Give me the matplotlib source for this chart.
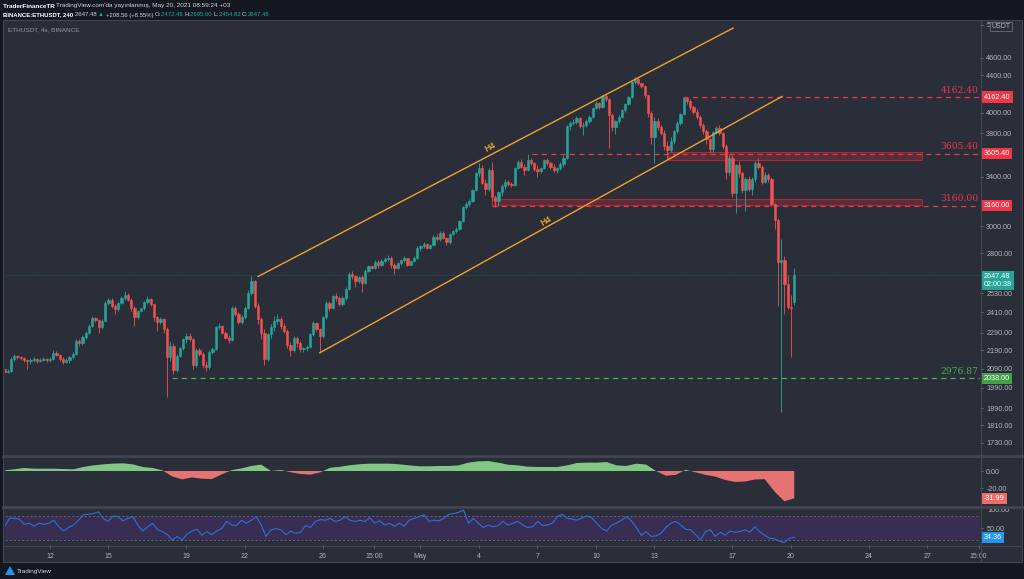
import numpy as np
import pandas as pd
import matplotlib
matplotlib.use('Agg')
import matplotlib.pyplot as plt
import matplotlib.dates as mdates
from matplotlib.transforms import blended_transform_factory as btf
from matplotlib.patches import Rectangle, Polygon
from matplotlib.lines import Line2D
from matplotlib.ticker import NullLocator

# ---------------- DATA ----------------
first_time = '2021-04-09 16:00'     # first 4h candle (local time +03)
first_open = 2085
last_open = 2472.46

closes_d = [
    [2070, 2078],
    [2140, 2158, 2150, 2145, 2135, 2130],
    [2135, 2140, 2132, 2138, 2142, 2136],
    [2140, 2175, 2165, 2140, 2125, 2135],
    [2150, 2170, 2240, 2230, 2265, 2290],
    [2330, 2375, 2365, 2320, 2360, 2470],
    [2490, 2450, 2430, 2470, 2500, 2520],
    [2490, 2440, 2380, 2420, 2435, 2475],
    [2495, 2460, 2380, 2350, 2370, 2310],
    [2150, 2215, 2080, 2160, 2200, 2250],
    [2270, 2250, 2110, 2190, 2170, 2110],
    [2100, 2180, 2195, 2320, 2330, 2290],
    [2260, 2245, 2440, 2400, 2350, 2380],
    [2440, 2530, 2610, 2450, 2370, 2290],
    [2140, 2280, 2320, 2360, 2370, 2330],
    [2300, 2220, 2190, 2260, 2230, 2195],
    [2200, 2210, 2280, 2345, 2310, 2270],
    [2380, 2470, 2440, 2510, 2500, 2460],
    [2500, 2560, 2660, 2640, 2610, 2635],
    [2600, 2680, 2710, 2700, 2740, 2720],
    [2745, 2760, 2770, 2720, 2700, 2730],
    [2750, 2765, 2720, 2745, 2770, 2840],
    [2850, 2870, 2840, 2860, 2920, 2900],
    [2950, 2910, 2880, 2940, 2960, 2980],
    [3040, 3150, 3170, 3200, 3290, 3430],
    [3480, 3350, 3300, 3460, 3230, 3200],
    [3270, 3320, 3360, 3340, 3330, 3480],
    [3530, 3490, 3460, 3550, 3520, 3470],
    [3450, 3480, 3550, 3520, 3490, 3460],
    [3480, 3510, 3570, 3870, 3900, 3910],
    [3950, 3870, 3880, 3920, 3960, 4050],
    [4100, 4060, 4170, 4140, 3980, 3860],
    [3920, 3960, 4030, 4090, 4160, 4330],
    [4360, 4310, 4280, 4180, 4000, 3760],
    [3920, 3860, 3800, 3680, 3640, 3720],
    [3820, 3900, 3990, 4150, 4120, 4060],
    [4010, 3960, 3880, 3820, 3740, 3650],
    [3810, 3850, 3800, 3680, 3440, 3570],
    [3260, 3500, 3430, 3290, 3380, 3300],
    [3380, 3520, 3490, 3360, 3420, 3380],
    [3170, 3050, 2740, 2750, 2590, 2445],
    [2439, 2647.48],
]
highs_d = [
    [2092, 2085],
    [2150, 2170, 2165, 2158, 2150, 2142],
    [2145, 2150, 2145, 2146, 2150, 2148],
    [2150, 2190, 2185, 2170, 2150, 2145],
    [2160, 2180, 2250, 2255, 2275, 2300],
    [2340, 2390, 2385, 2370, 2370, 2480],
    [2500, 2500, 2460, 2475, 2510, 2545],
    [2530, 2500, 2450, 2425, 2440, 2480],
    [2510, 2500, 2465, 2390, 2380, 2375],
    [2320, 2240, 2230, 2170, 2210, 2260],
    [2290, 2285, 2260, 2200, 2200, 2180],
    [2130, 2190, 2210, 2330, 2345, 2335],
    [2300, 2275, 2450, 2450, 2410, 2395],
    [2450, 2550, 2645, 2615, 2470, 2380],
    [2310, 2290, 2340, 2390, 2400, 2380],
    [2345, 2310, 2235, 2270, 2270, 2240],
    [2210, 2220, 2290, 2355, 2350, 2315],
    [2390, 2480, 2480, 2520, 2530, 2510],
    [2510, 2570, 2670, 2680, 2650, 2645],
    [2650, 2690, 2720, 2720, 2750, 2750],
    [2760, 2775, 2785, 2780, 2730, 2740],
    [2760, 2780, 2770, 2755, 2780, 2850],
    [2860, 2880, 2875, 2870, 2930, 2940],
    [2960, 2960, 2915, 2945, 2970, 2990],
    [3050, 3160, 3190, 3215, 3300, 3440],
    [3520, 3500, 3380, 3480, 3530, 3250],
    [3280, 3340, 3380, 3370, 3360, 3490],
    [3545, 3560, 3510, 3600, 3570, 3530],
    [3500, 3490, 3560, 3570, 3540, 3510],
    [3490, 3530, 3590, 3880, 3920, 3940],
    [3970, 3960, 3910, 3935, 3980, 4060],
    [4120, 4110, 4190, 4200, 4150, 4000],
    [3930, 3980, 4040, 4100, 4170, 4340],
    [4380, 4370, 4320, 4290, 4190, 4020],
    [3960, 3950, 3880, 3830, 3720, 3760],
    [3830, 3920, 4000, 4165, 4162, 4140],
    [4080, 4040, 3980, 3900, 3840, 3760],
    [3820, 3870, 3880, 3810, 3700, 3590],
    [3590, 3510, 3540, 3450, 3400, 3410],
    [3400, 3540, 3570, 3500, 3440, 3430],
    [3400, 3180, 3060, 2900, 2780, 2650],
    [2520, 2695],
]
lows_d = [
    [2060, 2065],
    [2072, 2130, 2140, 2135, 2125, 2085],
    [2115, 2125, 2122, 2126, 2130, 2126],
    [2125, 2135, 2155, 2130, 2115, 2118],
    [2120, 2140, 2165, 2215, 2220, 2255],
    [2280, 2320, 2350, 2290, 2310, 2355],
    [2455, 2440, 2400, 2420, 2460, 2490],
    [2480, 2420, 2330, 2370, 2410, 2425],
    [2465, 2450, 2360, 2300, 2340, 2290],
    [1945, 2130, 2060, 2070, 2150, 2190],
    [2230, 2240, 2090, 2100, 2155, 2095],
    [2075, 2090, 2170, 2190, 2310, 2280],
    [2250, 2230, 2240, 2390, 2340, 2340],
    [2370, 2430, 2520, 2440, 2340, 2250],
    [2110, 2130, 2260, 2300, 2340, 2310],
    [2290, 2200, 2160, 2180, 2210, 2180],
    [2180, 2185, 2200, 2270, 2300, 2180],
    [2260, 2370, 2420, 2430, 2480, 2450],
    [2450, 2490, 2550, 2620, 2570, 2600],
    [2540, 2590, 2670, 2690, 2690, 2700],
    [2710, 2735, 2745, 2700, 2660, 2690],
    [2720, 2740, 2710, 2715, 2740, 2760],
    [2820, 2840, 2830, 2830, 2850, 2890],
    [2890, 2900, 2860, 2870, 2930, 2950],
    [2970, 3030, 3130, 3160, 3190, 3280],
    [3400, 3340, 3250, 3280, 3200, 3150],
    [3160, 3240, 3300, 3320, 3310, 3320],
    [3470, 3480, 3420, 3450, 3500, 3450],
    [3400, 3430, 3470, 3500, 3470, 3440],
    [3430, 3460, 3490, 3560, 3830, 3880],
    [3890, 3850, 3780, 3860, 3900, 3950],
    [4040, 4040, 4050, 4120, 3660, 3820],
    [3790, 3900, 3950, 4010, 4080, 4150],
    [4300, 4290, 4260, 4150, 3960, 3700],
    [3520, 3830, 3780, 3640, 3560, 3620],
    [3700, 3800, 3880, 3980, 4090, 4030],
    [3990, 3940, 3850, 3790, 3700, 3610],
    [3620, 3790, 3780, 3650, 3380, 3420],
    [3230, 3100, 3400, 3260, 3120, 3280],
    [3250, 3360, 3470, 3340, 3350, 3360],
    [3160, 2980, 2450, 1870, 2400, 2430],
    [2150, 2454.82],
]

# oscillator panel (green/red area), read left to right at even spacing
osc_values = [0.8, 2, 3.5, 2.7, 2.7, 2.7, 2.3, 2, 4.7, 6.6, 7.8, 8.6, 9, 7.8, 4.7, 3.5,
              0.8, -6.5, -9.8, -7.5, -9, -9.5, -4, 1, 3, 5.9, 7.5, 0, 1.2, -1.5, -3.5,
              -4.3, -1.5, 3.8, 5, 6.8, 8, 8.6, 8.6, 8.6,
              7.8, 6.6, 5.5, 5.5, 5.9, 5.9, 6.6, 9.8, 11.3, 11.7, 9.8, 7.4, 6.6, 5.1,
              4.7, 4.7, 4.7, 6.6, 9.4, 9.8, 9.8, 10.5, 6.6, 5.9, 8.6, 7.5, 0, -5.5,
              -4.5, 1.4, -1.5, -4.5, -6.5, -10.5, -12.8, -12.4, -10, -9.5, -24, -35.5,
              -31.99]
osc_last = -31.99

# RSI, read left to right at even spacing
rsi_values = [52, 66, 66, 65, 56, 58, 53, 58, 56, 58, 63, 52, 45, 51, 55, 63, 72, 73, 74, 77,
              66, 61, 70, 69, 62, 66, 69, 55, 45, 52, 58, 47, 44, 39, 30, 36, 30, 40, 45, 48,
              38, 44, 39, 45, 49, 61, 55, 54, 63, 58, 63, 69, 55, 36, 47, 49, 47, 39, 45, 41,
              43, 54, 51, 61, 64, 63, 66, 61, 63, 69, 63, 61, 63, 61, 67, 58, 62, 55,
              58, 53, 58, 53, 63, 66, 69, 72, 61, 63, 62, 66, 73, 74, 76, 80, 58, 66, 58, 51,
              55, 52, 54, 61, 55, 58, 61, 55, 51, 52, 61, 54, 55, 58, 69, 73, 66, 65, 63, 67,
              70, 67, 58, 49, 45, 55, 58, 63, 69, 62, 51, 38, 44, 36, 37, 41, 51, 58, 61, 55,
              48, 47, 39, 30, 44, 47, 36, 43, 38, 45, 43, 44, 47, 43, 52, 44, 38, 33, 32, 28,
              26, 33, 34.36]
rsi_last = 34.36

# horizontal levels: (value, start time, color, chart label, axis tag)
levels = [
    (4162.40, '2021-05-14 11:00', '#f23645', '4162.40', '4162.40'),
    (3605.40, '2021-05-06 17:15', '#f23645', '3605.40', '3605.40'),
    (3160.00, '2021-05-04 16:00', '#f23645', '3160.00', '3160.00'),
    (2038.00, '2021-04-18 06:10', '#4caf50', '2976.87', '2038.00'),
]
zones = [  # (start, end, low, high)
    ('2021-05-13 16:30', '2021-05-26 17:15', 3546, 3618),
    ('2021-05-04 16:00', '2021-05-26 17:15', 3167, 3215),
]
channel_upper = (['2021-04-22 16:00', '2021-05-17 00:45'], [2640, 4960])
channel_lower = (['2021-04-25 20:00', '2021-05-19 13:00'], [2175, 4170])
h4_labels = [('2021-05-04 14:00', 3664, 27.5), ('2021-05-07 10:30', 3042, 29)]

price_ticks = [5000, 4600, 4400, 4000, 3800, 3400, 3000, 2800, 2530, 2410, 2290,
               2190, 2090, 1990, 1890, 1810, 1730]
time_ticks = ['2021-04-12 00:00', '2021-04-15 00:00', '2021-04-19 00:00', '2021-04-22 00:00',
              '2021-04-26 00:00', '2021-04-28 15:00', '2021-05-01 00:00', '2021-05-04 00:00',
              '2021-05-07 00:00', '2021-05-10 00:00', '2021-05-13 00:00', '2021-05-17 00:00',
              '2021-05-20 00:00', '2021-05-24 00:00', '2021-05-27 00:00', '2021-05-29 15:00']
time_labels = ['12', '15', '19', '22', '26', '15:00', 'May', '4', '7', '10', '13', '17',
               '20', '24', '27', '15:00']
last_price = 2647.48

# ---------------- STYLE ----------------
W, H = 1024, 579
BG_OUT = '#131722'
BG = '#2a2e39'
GRID = '#434651'
TXT = '#b2b5be'
UP, DOWN = '#26a69a', '#ef5350'
FONT = ['Liberation Sans', 'DejaVu Sans']


def dnum(s):
    return mdates.date2num(pd.Timestamp(s))


fig = plt.figure(figsize=(W / 100, H / 100), dpi=100, facecolor=BG_OUT)
fig.add_artist(Rectangle((3 / W, 1 - 562 / H), 1019 / W, 542 / H, transform=fig.transFigure,
                         facecolor=BG, edgecolor=GRID, lw=0.8, zorder=0))


def fax(x0, y0, x1, y1):
    return fig.add_axes([x0 / W, 1 - y1 / H, (x1 - x0) / W, (y1 - y0) / H])


def fline(x0, y0, x1, y1, color=GRID, lw=1.0):
    fig.add_artist(Line2D([x0 / W, x1 / W], [1 - y0 / H, 1 - y1 / H], transform=fig.transFigure,
                          color=color, lw=lw, zorder=5))


ax = fax(5, 20, 980, 455)
ax_o = fax(5, 457, 980, 506)
ax_r = fax(5, 507, 980, 545)

closes = np.array(sum(closes_d, []), dtype=float)
highs = np.array(sum(highs_d, []), dtype=float)
lows = np.array(sum(lows_d, []), dtype=float)
opens = np.concatenate([[first_open], closes[:-1]])
opens[-1] = last_open
highs = np.maximum(highs, np.maximum(opens, closes))
lows = np.minimum(lows, np.minimum(opens, closes))
times = pd.date_range(first_time, periods=len(closes), freq='4h')
xt = mdates.date2num(times)

xl = (dnum('2021-04-09 16:37'), dnum('2021-05-29 16:37'))

for a in (ax, ax_o, ax_r):
    a.set_facecolor('none')
    for s in a.spines.values():
        s.set_visible(False)
    a.set_xlim(*xl)
    a.tick_params(axis='x', bottom=False, labelbottom=False)
    a.yaxis.tick_right()
    a.tick_params(axis='y', colors='#787b86', labelcolor=TXT, labelsize=5.2, length=2.5, width=0.6, pad=2)

# ---- candles ----
col = np.where(closes >= opens, UP, DOWN)
w = 0.76 * 4 / 24
ax.vlines(xt, lows, highs, colors=col, lw=0.6, zorder=3)
bot = np.minimum(opens, closes)
hgt = np.abs(closes - opens)
ax.bar(xt, hgt, width=w, bottom=bot, color=col, edgecolor=col, linewidth=0.4, zorder=4)

ax.set_yscale('log')
ax.set_ylim(1678, 5063)
ax.yaxis.set_minor_locator(NullLocator())
ax.yaxis.set_minor_formatter(matplotlib.ticker.NullFormatter())
ax.set_yticks(price_ticks)
ax.set_yticklabels([f'{v:.2f}' for v in price_ticks], family=FONT)

# current price dotted line
ax.axhline(last_price, color=UP, lw=0.6, ls=(0, (1, 1.5)), alpha=0.45, zorder=2)

# zones
for s, e, lo, hi in zones:
    x0, x1 = dnum(s), dnum(e)
    ax.add_patch(Rectangle((x0, lo), x1 - x0, hi - lo, facecolor='#f23645', alpha=0.22,
                           edgecolor='none', zorder=2))
    ax.add_patch(Rectangle((x0, lo), x1 - x0, hi - lo, facecolor='none',
                           edgecolor='#b2262f', lw=0.8, zorder=2))

# levels
yblend = btf(ax.transAxes, ax.transData)
for val, start, c, lab, tagtxt in levels:
    x0 = dnum(start)
    ax.hlines(val, x0, xl[1], colors=c, lw=0.9, linestyles=(0, (4, 3.5)), zorder=3)
    ax.text(0.9985, val * 1.006, lab, transform=yblend, ha='right', va='bottom',
            color=c, fontsize=6.6, family='DejaVu Serif', zorder=6)


def tag(a, y, s, fc, dy=0.0, fs=5.2):
    a.annotate(s, xy=(1.0, y), xycoords=btf(a.transAxes, a.transData), xytext=(2.9, dy),
               textcoords='offset points', ha='left', va='center', fontsize=fs, color='white',
               family=FONT, linespacing=1.15,
               bbox=dict(boxstyle='square,pad=0.3', fc=fc, ec='none'),
               annotation_clip=False, zorder=10)


for val, start, c, lab, tagtxt in levels:
    tag(ax, val, tagtxt, '#f23645' if c != '#4caf50' else '#43a047')
tag(ax, last_price, '2647.48\n02:00:38', UP, dy=-3.9)

# USDT box
ax.text(1.022, 0.985, 'USDT', transform=ax.transAxes, ha='center', va='center', fontsize=5,
        color=TXT, family=FONT, zorder=11,
        bbox=dict(boxstyle='square,pad=0.2', fc=BG, ec='#787b86', lw=0.5))

# channel lines
ocol = '#f0a030'
for tt, pp in (channel_upper, channel_lower):
    ax.plot([dnum(t) for t in tt], pp, color=ocol, lw=1.0, zorder=5)
for t, p, rot in h4_labels:
    ax.text(dnum(t), p, 'H4', color='#e8a030', fontsize=6.2, fontweight='bold', rotation=rot,
            ha='center', va='center', family=FONT, rotation_mode='anchor', zorder=6)

ax.text(3 / 975, 0.978, 'ETHUSDT, 4s, BINANCE', transform=ax.transAxes, ha='left', va='center',
        color='#9598a1', fontsize=4.6, family=FONT)

# ---- oscillator panel ----
xo = np.linspace(xt[0], xt[-1], len(osc_values))
ov = np.array(osc_values)
ax_o.fill_between(xo, 0, ov, where=ov >= 0, interpolate=True, color='#81c784', lw=0)
ax_o.fill_between(xo, 0, ov, where=ov <= 0, interpolate=True, color='#e57373', lw=0)
ax_o.set_ylim(-41, 16.4)
ax_o.set_yticks([0, -20])
ax_o.set_yticklabels(['0.00', '-20.00'], family=FONT)
tag(ax_o, osc_last, f'{osc_last:.2f}', '#ef6c6c')

# ---- RSI panel ----
xr = np.linspace(xt[0], xt[-1], len(rsi_values))
ax_r.axhspan(30, 70, color='#382d52', lw=0, zorder=0)
ax_r.axhline(70, color='#787b86', lw=0.5, ls=(0, (3, 3)))
ax_r.axhline(30, color='#787b86', lw=0.5, ls=(0, (3, 3)))
ax_r.plot(xr, rsi_values, color='#2f6fde', lw=0.8, zorder=3)
ax_r.set_ylim(21.7, 85)
ax_r.set_yticks([50])
ax_r.set_yticklabels(['50.00'], family=FONT)
ax_r.text(1.0 + 7.5 / 975, 0.92, '100.00', transform=ax_r.transAxes, ha='left', va='center',
          fontsize=5.2, color=TXT, family=FONT)
tag(ax_r, rsi_last, f'{rsi_last:.2f}', '#2196f3')

# time axis
ax_r.set_xticks([dnum(t) for t in time_ticks])
ax_r.set_xticklabels(time_labels, family=FONT)
ax_r.tick_params(axis='x', bottom=True, labelbottom=True, colors='#787b86', labelcolor=TXT,
                 labelsize=5, length=2.5, width=0.6, pad=3.5)

# separators
fline(980.5, 20, 980.5, 562, lw=0.8)
fline(3, 456, 1022, 456, lw=2.0)
fline(3, 506.5, 1022, 506.5, lw=2.0)
fline(3, 545.5, 1022, 545.5, lw=0.8)

# ---- header ----
renderer = fig.canvas.get_renderer()


def seg_text(x_px, y_px, segs, fs=4.6):
    x = x_px
    for s, c, wgt in segs:
        t = fig.text(x / W, 1 - y_px / H, s, color=c, fontsize=fs, fontweight=wgt,
                     ha='left', va='center', family=FONT)
        bb = t.get_window_extent(renderer=renderer)
        x = bb.x1


WH = '#d1d4dc'
seg_text(3, 6, [('TraderFinanceTR ', 'white', 'bold'),
                ("TradingView.com'da yayınlanmış, May 20, 2021 08:59:24 +03", WH, 'normal')])
seg_text(3, 15, [('BINANCE:ETHUSDT, 240 ', 'white', 'bold'), ('2647.48 ', WH, 'normal'),
                 ('▲ ', UP, 'normal'), ('+208.56 (+8.55%) ', WH, 'normal'),
                 ('O:', WH, 'normal'), ('2472.46 ', UP, 'normal'),
                 ('H:', WH, 'normal'), ('2695.00 ', UP, 'normal'),
                 ('L:', WH, 'normal'), ('2454.82 ', UP, 'normal'),
                 ('C:', WH, 'normal'), ('2647.48', UP, 'normal')], fs=4.35)

# footer logo
fig.add_artist(Polygon([[5 / W, 1 - 575 / H], [10 / W, 1 - 566 / H], [15 / W, 1 - 575 / H]],
                       closed=True, transform=fig.transFigure, fc='#2196f3', ec='none'))
fig.text(17 / W, 1 - 571 / H, 'TradingView', color=WH, fontsize=4.6, family=FONT,
         ha='left', va='center')

fig.savefig('out.png', dpi=100, facecolor=BG_OUT)
